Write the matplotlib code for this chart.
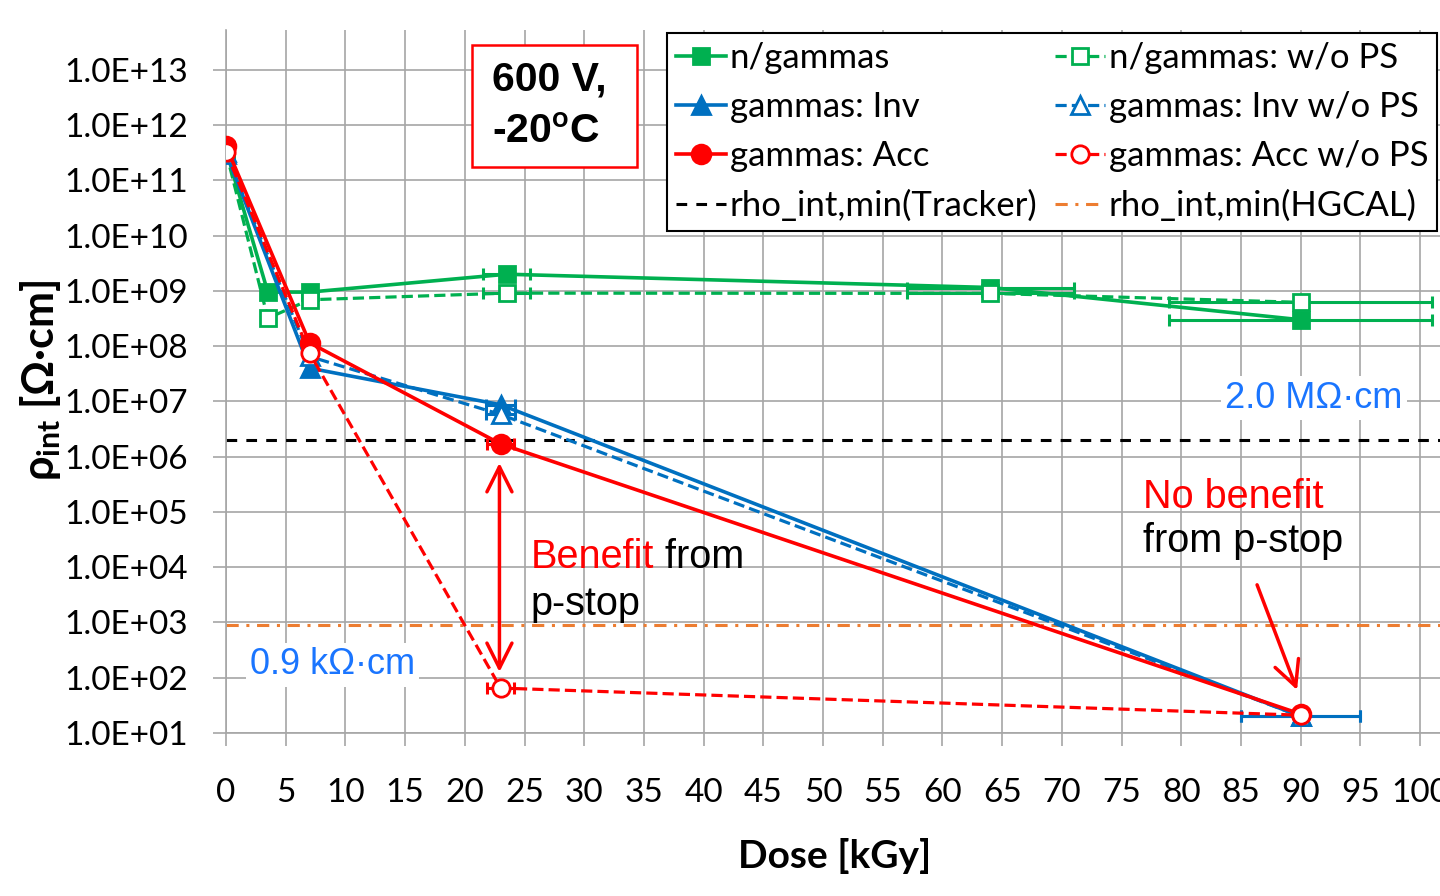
import matplotlib.pyplot as plt
from matplotlib import font_manager
from matplotlib.patches import Rectangle

# pick a narrow font close to the Calibri look of the original, else Lato
names = {f.name for f in font_manager.fontManager.ttflist}
narrow = 'Liberation Sans Narrow' if 'Liberation Sans Narrow' in names else 'Lato'
arial = 'Liberation Sans'

plt.rcParams['font.family'] = [narrow, 'DejaVu Sans']
plt.rcParams['mathtext.fontset'] = 'custom'
plt.rcParams['mathtext.rm'] = narrow
plt.rcParams['mathtext.bf'] = narrow + ':bold'

# data
dose_ng = [0, 3.5, 7, 23.5, 64, 90]
rho_ng = [3.6e11, 9.5e8, 9.5e8, 2.0e9, 1.15e9, 3.0e8]
rho_ng_wops = [3.3e11, 3.2e8, 6.9e8, 9.1e8, 9.0e8, 6.2e8]
xerr_ng = [0, 0, 0, 2, 7, 11]

dose_g = [0, 7, 23, 90]
rho_inv = [3.2e11, 4.0e7, 8.7e6, 2.0e1]
rho_inv_wops = [3.0e11, 6.5e7, 5.8e6, 2.0e1]
xerr_inv = [0, 0, 1.2, 5]
rho_acc = [4.2e11, 1.15e8, 1.7e6, 2.2e1]
rho_acc_wops = [3.3e11, 7.5e7, 6.5e1, 2.1e1]
xerr_acc = [0, 0, 1.1, 0]

tracker_min = 2.0e6
hgcal_min = 9.0e2

xticks = list(range(0, 101, 5))
yexp = list(range(1, 14))
ylabels = ["1.0E+%02d" % k for k in yexp]

green = '#00B050'
blue = '#0070C0'
red = '#FF0000'
orange = '#ED7D31'
label_blue = '#1A75FF'

fig = plt.figure(figsize=(14.4, 8.96), dpi=100)
ax = fig.add_axes([226 / 1440, 163 / 896, 1214 / 1440, 703 / 896])
ax.set_yscale('log')


def series(x, y, xerr, color, marker, dashed, label, ms, z):
    ls = (0, (3.5, 1.6)) if dashed else '-'
    lw = 2.3 if dashed else 2.6
    face = 'white' if dashed else color
    ax.plot(x, y, ls=ls, lw=lw, color=color, marker=marker, ms=ms,
            mfc=face, mec=color, mew=2.0, label=label, zorder=z)
    idx = [i for i, e in enumerate(xerr) if e > 0]
    ax.errorbar([x[i] for i in idx], [y[i] for i in idx],
                xerr=[xerr[i] for i in idx], fmt='none', ecolor=color,
                elinewidth=2.2, capsize=4.5, capthick=2.2, zorder=z - 0.5)


series(dose_ng, rho_ng, xerr_ng, green, 's', False, 'n/gammas', 11.5, 3)
series(dose_ng, rho_ng_wops, xerr_ng, green, 's', True, 'n/gammas: w/o PS', 11.5, 3)
series(dose_g, rho_inv, xerr_inv, blue, '^', False, 'gammas: Inv', 12.5, 4)
series(dose_g, rho_inv_wops, xerr_inv, blue, '^', True, 'gammas: Inv w/o PS', 12.5, 4)
series(dose_g, rho_acc, xerr_acc, red, 'o', False, 'gammas: Acc', 13.5, 5)
series(dose_g, rho_acc_wops, xerr_acc, red, 'o', True, 'gammas: Acc w/o PS', 12.5, 5)

ax.axhline(tracker_min, color='black', lw=2.2, ls=(0, (3.5, 3)), zorder=2,
           label='rho_int,min(Tracker)')
ax.axhline(hgcal_min, color=orange, lw=2.2, ls=(0, (4, 2.5, 1, 2.5)), zorder=2,
           label='rho_int,min(HGCAL)')

ax.set_xlim(0, 101.67)
ax.set_ylim(10, 10 ** 13.72)
ax.set_xticks(xticks)
ax.set_yticks([10.0 ** k for k in yexp])
ax.set_yticklabels(ylabels)
ax.minorticks_off()
ax.grid(True, color='#A6A6A6', lw=1.2, zorder=0)
ax.set_axisbelow(True)
for s in ['top', 'right']:
    ax.spines[s].set_visible(False)
for s in ['left', 'bottom']:
    ax.spines[s].set_color('#A6A6A6')
    ax.spines[s].set_linewidth(1.2)
ax.tick_params(axis='both', colors='#A6A6A6', labelcolor='black', width=1.2,
               length=9.5, labelsize=24)
ax.tick_params(axis='y', pad=18)
ax.tick_params(axis='x', pad=23)

ax.set_xlabel('Dose [kGy]', fontsize=28, fontweight='bold')
ax.xaxis.set_label_coords(0.5016, -0.149)
ax.set_ylabel(r'ρ$_{\mathbf{int}}$ [Ω·cm]', fontsize=31, fontweight='bold', va='center')
ax.yaxis.set_label_coords(-0.1532, 0.502)

# legend, column by column
h, l = ax.get_legend_handles_labels()
order = [0, 2, 4, 6, 1, 3, 5, 7]
leg = ax.legend([h[i] for i in order], [l[i] for i in order], ncol=2,
                loc='upper right', bbox_to_anchor=(0.9975, 0.9957),
                borderaxespad=0, fontsize=25, handlelength=1.45,
                handletextpad=0.1, columnspacing=0.5, labelspacing=0.5,
                borderpad=0.25, fancybox=False, framealpha=1, edgecolor='black')
leg.get_frame().set_linewidth(1.5)
leg.set_zorder(8)

# condition box
ax.add_patch(Rectangle((0.2026, 0.8051), 0.136, 0.1736, transform=ax.transAxes,
                       facecolor='white', edgecolor=red, lw=1.8, zorder=6))
ax.text(0.219, 0.929, '600 V,', transform=ax.transAxes, fontsize=29.5,
        fontweight='bold', family=arial, va='center', zorder=7)
ax.text(0.219, 0.855, '-20$^{\\mathbf{o}}$C', transform=ax.transAxes, fontsize=29.5,
        fontweight='bold', family=arial, va='center', zorder=7)

# threshold labels
box = dict(facecolor='white', edgecolor='none', pad=3)
ax.text(83.7, 1.15e7, '2.0 MΩ·cm', color=label_blue, fontsize=26, family=arial,
        va='center', bbox=box, zorder=2.5)
ax.text(2.0, 1.7e2, '0.9 kΩ·cm', color=label_blue, fontsize=26, family=arial,
        va='center', bbox=box, zorder=2.5)

# benefit annotations
t1 = ax.text(25.5, 1.5e4, 'Benefit', color=red, fontsize=28.5, family=arial,
             va='center', zorder=7)
ax.annotate(' from', xy=(1, 0), xycoords=t1, va='bottom', ha='left',
            fontsize=28.5, family=arial, color='black', zorder=7)
ax.text(25.5, 2.16e3, 'p-stop', color='black', fontsize=28.5, family=arial,
        va='center', zorder=7)
ax.text(76.8, 1.86e5, 'No benefit', color=red, fontsize=28.5, family=arial,
        va='center', zorder=7)
ax.text(76.8, 2.98e4, 'from p-stop', color='black', fontsize=28.5, family=arial,
        va='center', zorder=7)

ax.annotate('', xy=(22.9, 1.27e2), xytext=(22.9, 7.7e5),
            arrowprops=dict(arrowstyle='<->,head_length=0.9,head_width=0.45',
                            color=red, lw=2.5, shrinkA=0, shrinkB=0,
                            mutation_scale=20), zorder=7)
ax.annotate('', xy=(89.7, 6.0e1), xytext=(86.35, 4.8e3),
            arrowprops=dict(arrowstyle='->,head_length=0.9,head_width=0.45',
                            color=red, lw=2.5, shrinkA=0, shrinkB=0,
                            mutation_scale=20), zorder=7)

fig.savefig('out.png', dpi=100)
